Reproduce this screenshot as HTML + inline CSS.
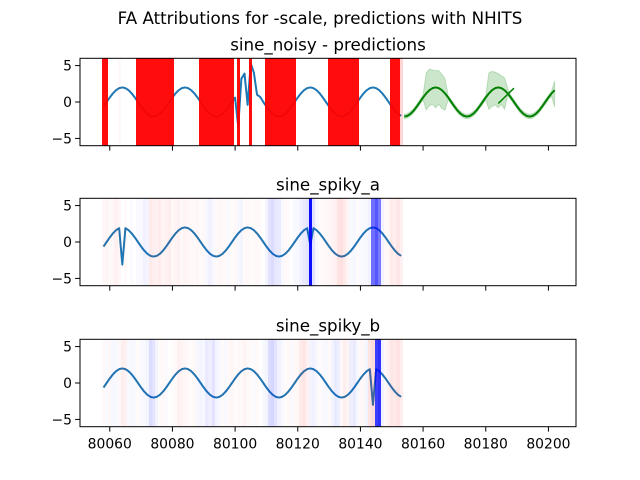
<!DOCTYPE html>
<html><head><meta charset="utf-8"><style>body{margin:0;background:#fff}svg{display:block}text{font-family:"DejaVu Sans","Liberation Sans",sans-serif;fill:#000}</style></head>
<body>
<svg id="fig" width="640" height="480" viewBox="0 0 640 480">
<text x="320" y="24" text-anchor="middle" font-size="16.7">FA Attributions for -scale, predictions with NHITS</text>
</svg>
<script>
const panelTitles=["sine_noisy - predictions","sine_spiky_a","sine_spiky_b"];
const xStart=80058;
const noisy=[-0.62,0,0.62,1.18,1.62,1.9,2,1.9,1.62,1.18,0.62,0,-0.62,-1.18,-1.62,-1.9,-2,-1.9,-1.62,-1.18,-0.62,0,0.62,1.18,1.62,1.9,2,1.9,1.62,1.18,0.62,0,-0.62,-1.18,-1.62,-1.9,-2,-1.9,-1.62,-1.18,-0.62,0,0.6,-3.4,3.2,3.9,-0.4,5.3,4.0,1.0,0.7,0,-0.62,-1.18,-1.62,-1.9,-2,-1.9,-1.62,-1.18,-0.62,0,0.62,1.18,1.62,1.9,2,1.9,1.62,1.18,0.62,0,-0.62,-1.18,-1.62,-1.9,-2,-1.9,-1.62,-1.18,-0.62,0,0.62,1.18,1.62,1.9,2,1.9,1.62,1.18,0.62,0,-0.62,-1.18,-1.62,-1.9];
const spikyA=[-0.62,0,0.62,1.18,1.62,1.9,-3.1,1.9,1.62,1.18,0.62,0,-0.62,-1.18,-1.62,-1.9,-2,-1.9,-1.62,-1.18,-0.62,0,0.62,1.18,1.62,1.9,2,1.9,1.62,1.18,0.62,0,-0.62,-1.18,-1.62,-1.9,-2,-1.9,-1.62,-1.18,-0.62,0,0.62,1.18,1.62,1.9,2,1.9,1.62,1.18,0.62,0,-0.62,-1.18,-1.62,-1.9,-2,-1.9,-1.62,-1.18,-0.62,0,0.62,1.18,1.62,1.9,-0.4,1.9,1.62,1.18,0.62,0,-0.62,-1.18,-1.62,-1.9,-2,-1.9,-1.62,-1.18,-0.62,0,0.62,1.18,1.62,1.9,2,1.9,1.62,1.18,0.62,0,-0.62,-1.18,-1.62,-1.9];
const spikyB=[-0.62,0,0.62,1.18,1.62,1.9,2,1.9,1.62,1.18,0.62,0,-0.62,-1.18,-1.62,-1.9,-2,-1.9,-1.62,-1.18,-0.62,0,0.62,1.18,1.62,1.9,2,1.9,1.62,1.18,0.62,0,-0.62,-1.18,-1.62,-1.9,-2,-1.9,-1.62,-1.18,-0.62,0,0.62,1.18,1.62,1.9,2,1.9,1.62,1.18,0.62,0,-0.62,-1.18,-1.62,-1.9,-2,-1.9,-1.62,-1.18,-0.62,0,0.62,1.18,1.62,1.9,2,1.9,1.62,1.18,0.62,0,-0.62,-1.18,-1.62,-1.9,-2,-1.9,-1.62,-1.18,-0.62,0,0.62,1.18,1.62,1.9,-3.0,1.9,1.62,1.18,0.62,0,-0.62,-1.18,-1.62,-1.9];
const attrNoisy=[1,1,0,0,0,0.05,0,0,0,0,0,1,1,1,1,1,1,1,1,1,1,1,1,0,0,0,0,0,0,0,0,1,1,1,1,1,1,1,1,1,1,1,0,1,0,0,0,1,0,0,0,0,1,1,1,1,1,1,1,1,1,1,0,0,0,0,0,0,0,0,0,0,1,1,1,1,1,1,1,1,1,1,0,0,0,0,0,0,0,0,0,0,1,1,1,0.3];
const attrA=[0.06,0.08,0.05,0.05,0.1,0.06,0,0.04,0,-0.03,0,-0.04,-0.05,-0.1,-0.08,0.15,0.12,0.1,0.14,0.08,0.1,0.12,0.06,0.08,0.1,0.05,0.08,0.06,0.05,0.04,0.06,0.03,0.05,-0.06,-0.1,-0.05,0.04,0.06,0.05,0.04,-0.04,0.03,0.05,-0.06,-0.08,0.04,0.05,0.03,0.04,0.05,0.03,0,-0.08,-0.2,-0.25,-0.18,-0.15,-0.05,0.04,0.03,0,-0.04,-0.05,-0.1,-0.15,-0.2,-1,-0.2,-0.06,0.03,0.04,0.05,0.06,0.08,0.1,0.2,0.22,0.15,0.08,-0.05,-0.06,0.03,-0.04,-0.05,-0.06,-0.1,-0.6,-0.7,-0.55,-0.1,0.04,0.06,0.15,0.12,0.18,0.1];
const attrB=[0.04,-0.04,0.05,-0.06,-0.05,0.05,0.12,0.1,-0.05,-0.06,-0.05,0.03,-0.04,-0.05,-0.08,-0.25,-0.2,-0.08,0.03,0.04,-0.03,0,0.03,0.04,0.1,0.08,0.06,0.04,0.03,0.05,-0.06,-0.08,-0.06,-0.15,-0.12,-0.2,-0.08,-0.05,0.03,-0.05,0.04,0.06,0.03,0.05,0.04,0.08,0.05,0.03,-0.03,0.04,0,-0.05,-0.08,-0.25,-0.3,-0.2,-0.1,-0.05,0.03,0.04,-0.04,0.05,0.06,0.15,0.18,0.1,-0.08,-0.1,-0.06,0.03,-0.04,-0.05,0.04,-0.08,-0.15,-0.12,0.05,0.12,0.08,-0.12,-0.15,-0.06,0.05,0.05,-0.08,0.2,0.25,-0.8,-0.85,-0.1,0.05,0.1,0.18,0.15,0.2,0.12];
const predStart=80154;
const predVals=[-2,-1.9,-1.62,-1.18,-0.62,0,0.62,1.18,1.62,1.9,2,1.9,1.62,1.18,0.62,0,-0.62,-1.18,-1.62,-1.9,-2,-1.9,-1.62,-1.18,-0.62,0,0.62,1.18,1.62,1.9,2,1.9,1.62,1.18,0.62,0,-0.62,-1.18,-1.62,-1.9,-2,-1.9,-1.62,-1.18,-0.62,0,0.62,1.18,1.62];
const predHi=[-1.7,-1.6,-1.3,-0.9,-0.3,0.3,1.0,4.0,4.5,4.4,4.3,4.3,3.8,3.2,0.9,0.3,-0.3,-0.9,-1.3,-1.6,-1.7,-1.6,-1.3,-0.9,-0.3,0.3,0.9,4.0,4.2,4.1,3.9,3.6,3.3,1.9,0.9,0.3,-0.3,-0.9,-1.3,-1.6,-1.7,-1.6,-1.3,-0.9,-0.3,0.3,0.9,1.5,2.9];
const predLo=[-2.3,-2.2,-1.9,-1.5,-0.9,-0.3,0.3,-1.1,-0.5,-0.3,-0.8,-0.3,-0.9,-1.1,0.3,-0.3,-0.9,-1.5,-1.9,-2.2,-2.3,-2.2,-1.9,-1.5,-0.9,-0.3,0.3,-1.0,-0.6,-0.4,-0.8,-0.3,-1.0,0.9,0.3,-0.3,-0.9,-1.5,-1.9,-2.2,-2.3,-2.2,-1.9,-1.5,-0.9,-0.3,0.3,0.8,-0.7];
const segX=[80184,80189];
const segY=[-0.2,1.9];
const xTicks=[80060,80080,80100,80120,80140,80160,80180,80200];
const yTicks=[-5,0,5];

const NS="http://www.w3.org/2000/svg";
const svg=document.getElementById("fig");
const AX_L=80,AX_R=576,XMIN=80050.5,XMAX=80208.8,YMIN=-6,YMAX=6,H=87.4;
const tops=[58.3,198.3,339.3];
function xs(v){return AX_L+(v-XMIN)/(XMAX-XMIN)*(AX_R-AX_L);}
function ys(p,v){return tops[p]+(YMAX-v)/(YMAX-YMIN)*H;}
function mk(tag,attrs,parent){const e=document.createElementNS(NS,tag);for(const k in attrs)e.setAttribute(k,attrs[k]);(parent||svg).appendChild(e);return e;}
const series=[noisy,spikyA,spikyB];
const attrs=[attrNoisy,attrA,attrB];
const pnames=["noisy","spiky-a","spiky-b"];
for(let p=0;p<3;p++){
  const g=mk("g",{});
  
  
  const defs=mk("defs",{},g);
  const cp=mk("clipPath",{id:"clip"+p},defs);
  mk("rect",{x:AX_L,y:tops[p],width:AX_R-AX_L,height:H},cp);
  const plot=mk("g",{"clip-path":"url(#clip"+p+")"},g);
  
  
  let d="";
  series[p].forEach((v,i)=>{d+=(i?"L":"M")+xs(xStart+i).toFixed(2)+","+ys(p,v).toFixed(2);});
  const ln=mk("path",{d:d,fill:"none",stroke:"#1f77b4","stroke-width":2,"stroke-linejoin":"round"},plot);
  
  
  if(p===0){
    let top="",bot="";
    predHi.forEach((v,i)=>{top+=(i?"L":"M")+xs(predStart+i).toFixed(2)+","+ys(0,v).toFixed(2);});
    for(let i=predLo.length-1;i>=0;i--){bot+="L"+xs(predStart+i).toFixed(2)+","+ys(0,predLo[i]).toFixed(2);}
    const band=mk("path",{d:top+bot+"Z",fill:"#008000","fill-opacity":0.2,stroke:"#008000","stroke-opacity":0.2},plot);
    
    
    let pd="";
    predVals.forEach((v,i)=>{pd+=(i?"L":"M")+xs(predStart+i).toFixed(2)+","+ys(0,v).toFixed(2);});
    const pl=mk("path",{d:pd,fill:"none",stroke:"#008000","stroke-width":2,"stroke-linejoin":"round"},plot);
    
    
    let sd="";
    segX.forEach((x,i)=>{sd+=(i?"L":"M")+xs(x).toFixed(2)+","+ys(0,segY[i]).toFixed(2);});
    const sl=mk("path",{d:sd,fill:"none",stroke:"#008000","stroke-width":1.5},plot);
    
    
  }
  attrs[p].forEach((a,i)=>{
    if(a===0)return;
    const x0=Math.round(xs(xStart+i-0.5)),x1=Math.round(xs(xStart+i+0.5));
    const m=Math.abs(a);
    const op=m>=0.5?Math.min(1,m)*0.95:m*0.55;
    const r=mk("rect",{x:x0,y:tops[p],width:x1-x0,height:H,fill:a>0?"#ff0000":"#0000ff","fill-opacity":op,"shape-rendering":"crispEdges"},plot);
    
    
  });
  const fr=mk("rect",{x:AX_L,y:tops[p],width:AX_R-AX_L,height:H,fill:"none",stroke:"#000","stroke-width":1},g);
  
  
  const t=mk("text",{x:(AX_L+AX_R)/2,y:tops[p]-8,"text-anchor":"middle","font-size":16.7},g);
  t.textContent=panelTitles[p];
  
  
  yTicks.forEach(v=>{
    const y=ys(p,v);
    const tk=mk("line",{x1:AX_L-4.9,x2:AX_L,y1:y,y2:y,stroke:"#000","stroke-width":1},g);
    
    
    const tl=mk("text",{x:AX_L-8,y:y+5,"text-anchor":"end","font-size":13.9},g);
    tl.textContent=v<0?"\u2212"+Math.abs(v):String(v);
    
    
  });
  xTicks.forEach(v=>{
    const x=xs(v),yb=tops[p]+H;
    const tk=mk("line",{x1:x,x2:x,y1:yb,y2:yb+4.9,stroke:"#000","stroke-width":1},g);
    
    
    if(p===2){
      const tl=mk("text",{x:x,y:yb+22,"text-anchor":"middle","font-size":13.9},g);
      tl.textContent=String(v);
      
      
    }
  });
}
</script>
</body></html>
